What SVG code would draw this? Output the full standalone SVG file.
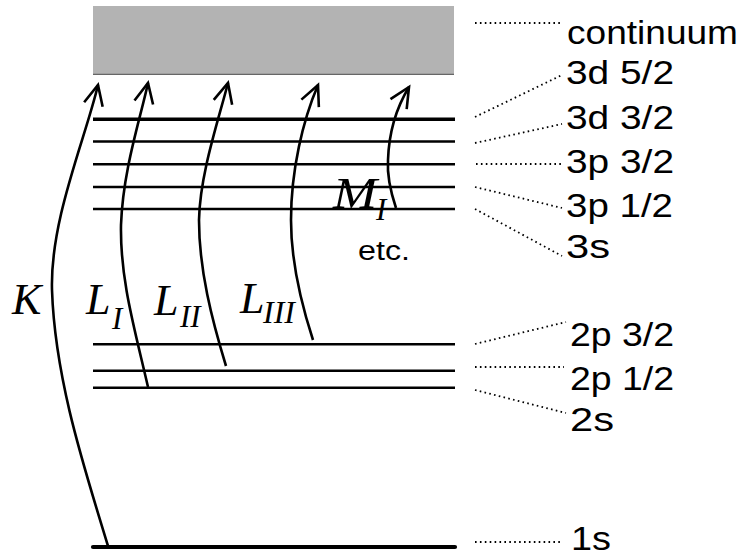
<svg xmlns="http://www.w3.org/2000/svg" width="748" height="555" viewBox="0 0 748 555">
  <style>
    .level { stroke: #000; stroke-width: 2.6; fill: none; }
    .level.thick { stroke-width: 3.4; }
    .level.ground { stroke-width: 4.2; stroke-linecap: round; }
    .leader { stroke: #000; stroke-width: 1.8; stroke-dasharray: 1.6 3.3; fill: none; }
    .label { font-family: "Liberation Sans", Arial, sans-serif; font-size: 34px; fill: #000; }
    .small { font-family: "Liberation Sans", Arial, sans-serif; font-size: 27px; fill: #000; }
    .shell { font-family: "Liberation Serif", "Times New Roman", serif; font-style: italic; font-size: 44px; fill: #000; }
    .sub { font-family: "Liberation Serif", "Times New Roman", serif; font-style: italic; font-size: 31px; fill: #000; }
    .edge { stroke: #000; stroke-width: 2.6; fill: none; marker-end: url(#open); }
  </style>
  <defs>
    <marker id="open" markerUnits="userSpaceOnUse" markerWidth="30" markerHeight="30" refX="0" refY="0" orient="auto" overflow="visible">
      <path d="M-20,-9.5 L0,0 L-20,9.5" fill="none" stroke="#000" stroke-width="2.6" stroke-linejoin="miter"/>
    </marker>
  </defs>

  <!-- continuum band -->
  <g id="continuum">
    <rect x="93" y="6" width="361" height="68.7" fill="#b3b3b3"/>
    <line x1="93" y1="74.4" x2="454" y2="74.4" stroke="#666" stroke-width="1.2"/>
    <text class="label" x="567" y="44" textLength="171" lengthAdjust="spacingAndGlyphs">continuum</text>
  </g>

  <!-- M shell -->
  <g id="level-3d52"><line class="level thick" x1="93" y1="119.3" x2="455" y2="119.3"/><text class="label" x="566" y="84" textLength="108" lengthAdjust="spacingAndGlyphs">3d 5/2</text></g>
  <g id="level-3d32"><line class="level" x1="93" y1="141.5" x2="455" y2="141.5"/><text class="label" x="566" y="129" textLength="108" lengthAdjust="spacingAndGlyphs">3d 3/2</text></g>
  <g id="level-3p32"><line class="level" x1="93" y1="164.3" x2="455" y2="164.3"/><text class="label" x="566" y="173" textLength="108" lengthAdjust="spacingAndGlyphs">3p 3/2</text></g>
  <g id="level-3p12"><line class="level" x1="93" y1="187" x2="455" y2="187"/><text class="label" x="566" y="217" textLength="107" lengthAdjust="spacingAndGlyphs">3p 1/2</text></g>
  <g id="level-3s"><line class="level" x1="93" y1="209" x2="455" y2="209"/><text class="label" x="566" y="258" textLength="44" lengthAdjust="spacingAndGlyphs">3s</text></g>

  <!-- L shell -->
  <g id="level-2p32"><line class="level" x1="93" y1="344.3" x2="455" y2="344.3"/><text class="label" x="570" y="346" textLength="104" lengthAdjust="spacingAndGlyphs">2p 3/2</text></g>
  <g id="level-2p12"><line class="level" x1="93" y1="370.7" x2="455" y2="370.7"/><text class="label" x="570" y="390" textLength="104" lengthAdjust="spacingAndGlyphs">2p 1/2</text></g>
  <g id="level-2s"><line class="level" x1="93" y1="387.7" x2="455" y2="387.7"/><text class="label" x="570" y="431" textLength="44" lengthAdjust="spacingAndGlyphs">2s</text></g>

  <!-- K shell -->
  <g id="level-1s"><line class="level ground" x1="93" y1="547" x2="455" y2="547"/><text class="label" x="571" y="550" textLength="40" lengthAdjust="spacingAndGlyphs">1s</text></g>

  <!-- edge labels -->
  <g id="edge-labels">
    <text class="shell" x="12" y="314">K</text>
    <text class="shell" x="86" y="314">L</text><text class="sub" x="112" y="329">I</text>
    <text class="shell" x="154" y="315">L</text><text class="sub" x="180" y="327">II</text>
    <text class="shell" x="240" y="313">L</text><text class="sub" x="263" y="323" textLength="32" lengthAdjust="spacingAndGlyphs">III</text>
    <text class="shell" x="333" y="208" textLength="44" lengthAdjust="spacingAndGlyphs">M</text><text class="sub" x="376" y="220">I</text>
    <text class="small" x="358" y="260" textLength="52" lengthAdjust="spacingAndGlyphs">etc.</text>
  </g>

  <g id="connectors">
    <!-- dotted leaders from levels to their names -->
    <line class="leader" x1="475" y1="23" x2="562" y2="23"/>
    <line class="leader" x1="475" y1="117" x2="562" y2="75"/>
    <line class="leader" x1="475" y1="143" x2="562" y2="124"/>
    <line class="leader" x1="476" y1="164" x2="561" y2="164"/>
    <line class="leader" x1="475" y1="187" x2="562" y2="208"/>
    <line class="leader" x1="475" y1="209" x2="562" y2="256"/>
    <line class="leader" x1="475" y1="344" x2="566" y2="322"/>
    <line class="leader" x1="475" y1="367" x2="564" y2="367"/>
    <line class="leader" x1="475" y1="390" x2="566" y2="413"/>
    <line class="leader" x1="475" y1="542" x2="563" y2="542"/>

    <!-- ionisation transitions into the continuum -->
    <path class="edge" d="M108,546 C85,470 55,380 52,290 C50,220 85,140 98,85"/>
    <path class="edge" d="M148,387 C135,330 120,280 121,225 C123,170 140,120 148,83"/>
    <path class="edge" d="M226,366 C212,320 199,270 199,220 C200,175 217,125 228,83"/>
    <path class="edge" d="M313,340 C300,300 291,260 291,220 C291,170 303,120 318,85"/>
    <path class="edge" d="M396,208 C390,190 387,175 388,160 C389,130 398,105 409,87"/>
  </g>
</svg>
